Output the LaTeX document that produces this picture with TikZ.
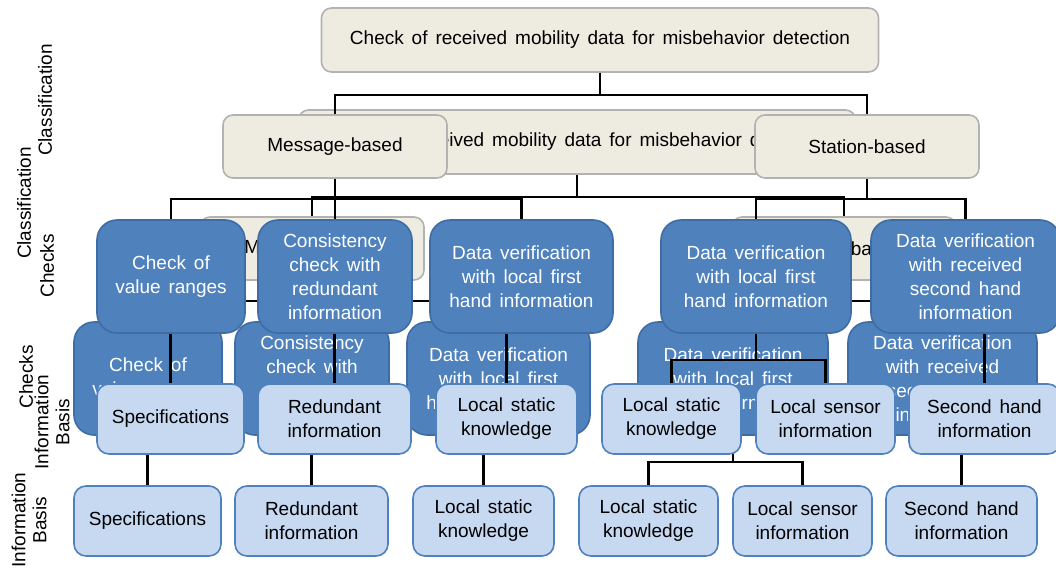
\documentclass[tikz,border=0pt]{standalone}
\usepackage{fontspec}
\setmainfont{Liberation Sans}[WordSpace=1.5]
\usetikzlibrary{positioning, calc}
\definecolor{clsfill}{HTML}{EEECE1}
\definecolor{clsdraw}{HTML}{B2B2B2}
\definecolor{chkfill}{HTML}{4F81BD}
\definecolor{chkdraw}{HTML}{3E6CA4}
\definecolor{infofill}{HTML}{C6D9F1}
\definecolor{infodraw}{HTML}{4F81BD}
\tikzset{
  cls/.style={draw=clsdraw, line width=1.6pt, rounded corners=10pt, fill=clsfill, inner sep=2pt, align=center, minimum height=63pt},
  chk/.style={draw=chkdraw, line width=1.6pt, rounded corners=20pt, fill=chkfill, text=white, inner sep=2pt, align=center, minimum height=113pt},
  info/.style={draw=infodraw, line width=1.6pt, rounded corners=12pt, fill=infofill, inner sep=2pt, align=center, minimum height=70pt},
  conn/.style={draw, line width=2.6pt},
  lbl/.style={rotate=90, align=center, font=\fontsize{19}{21}\selectfont},
}
% one copy of the tree, drawn twice (shifted copy behind)
\newcommand{\misbtree}{
  \node[cls, minimum width=557pt, minimum height=64pt] (root) at (600,40) {Check of received mobility data for misbehavior detection};
  \node[cls, minimum width=224pt] (msg) at (335,146.5) {Message-based};
  \node[cls, minimum width=224pt] (sta) at (867,146.5) {Station-based};

  \node[chk, minimum width=148pt] (chk1) at (171,276.5) {Check of\\value ranges};
  \node[chk, minimum width=154pt] (chk2) at (335,276.5) {Consistency\\check with\\redundant\\information};
  \node[chk, minimum width=183pt] (chk3) at (521.5,276.5) {Data verification\\with local first\\hand information};
  \node[chk, minimum width=190pt] (chk4) at (756,276.5) {Data verification\\with local first\\hand information};
  \node[chk, minimum width=189pt] (chk5) at (965.5,276.5) {Data verification\\with received\\second hand\\information};

  \node[info, minimum width=147pt] (inf1) at (170.5,419) {Specifications};
  \node[info, minimum width=153pt] (inf2) at (334.5,419) {Redundant\\information};
  \node[info, minimum width=141pt] (inf3) at (506.5,419) {Local static\\knowledge};
  \node[info, minimum width=139pt] (inf4) at (671.5,419) {Local static\\knowledge};
  \node[info, minimum width=139pt] (inf5) at (825.5,419) {Local sensor\\information};
  \node[info, minimum width=151pt] (inf6) at (984.5,419) {Second hand\\information};

  \draw[conn] (root.south) -- ++(0,22) -| (msg.north);
  \draw[conn] (root.south) -- ++(0,22) -| (sta.north);
  \foreach \cx in {chk1,chk2,chk3}
    \draw[conn] (msg.south) -- ++(0,20) -| (\cx.north);
  \foreach \cx in {chk4,chk5}
    \draw[conn] (sta.south) -- ++(0,20) -| (\cx.north);
  \foreach \cx/\ix in {chk1/inf1,chk2/inf2,chk3/inf3,chk5/inf6}
    \draw[conn] (\cx.south -| \ix.north) -- (\ix.north);
  \foreach \ix in {inf4,inf5}
    \draw[conn] (chk4.south) -- ++(0,26) -| (\ix.north);
}

\begin{document}
\begin{tikzpicture}[x=1pt, y=-1pt, font=\fontsize{19}{24}\selectfont]
  \useasboundingbox (0,0) rectangle (1056,570);

  % row labels
  \node[lbl] (gcls) at (24,203) {Classification};
  \node[lbl] (gchk) at (26,377) {Checks};
  \node[lbl] (ginf) at (29,520) {Information\\Basis};
  \node[lbl] (lcls) at (45,100) {Classification};
  \node[lbl] (lchk) at (47,266) {Checks};
  \node[lbl] (linf) at (52,422) {Information\\Basis};

  \begin{scope}[shift={(-23,102)}, name prefix=g-]
    \misbtree
  \end{scope}
  \misbtree
\end{tikzpicture}
\end{document}
